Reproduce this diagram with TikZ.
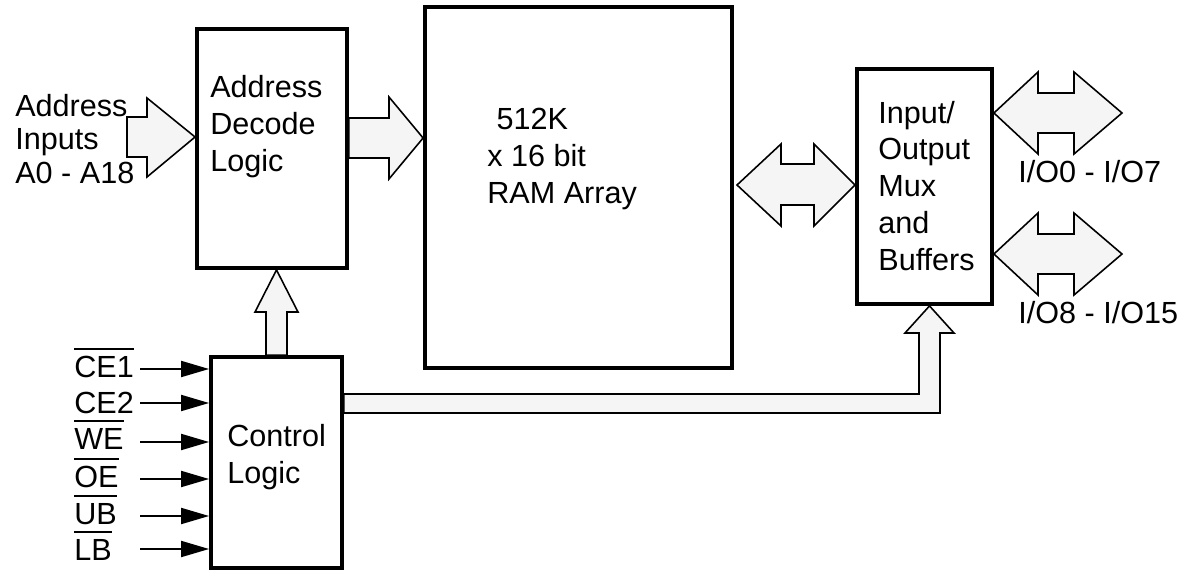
\documentclass[tikz,border=0pt]{standalone}
\usepackage{fontspec}
\setmainfont{Liberation Sans}
\usetikzlibrary{arrows.meta,calc}
\newcommand{\sigbar}[1]{\vbox{\hrule height 1.1pt\kern 3.2pt\hbox{#1}}}

\begin{document}
\begin{tikzpicture}[x=0.02cm,y=-0.02cm,
  box/.style={draw,line width=2.2pt,inner sep=0pt},
  bus/.style={draw,line width=0.9pt,fill=black!4},
  sig/.style={line width=1.1pt,-{Triangle[length=0.56cm,width=0.32cm]}},
  txt/.style={anchor=base west,inner sep=0pt,align=left,font=\fontsize{17.4}{20.9}\selectfont}]
  \useasboundingbox (0,0) rectangle (1189,571);

  \node[box,minimum width=3cm,minimum height=4.78cm]    (Dec) at (272,148.5) {};
  \node[box,minimum width=6.14cm,minimum height=7.22cm] (Ram) at (578.5,187.5) {};
  \node[box,minimum width=2.7cm,minimum height=4.7cm]   (Io)  at (924.5,186.5) {};
  \node[box,minimum width=2.62cm,minimum height=4.22cm] (Ctl) at (276.5,462.5) {};

  \filldraw[bus] (127,117) -- (147,117) -- (147,98) -- (Dec.west |- 0,137)
    -- (147,177) -- (147,157) -- (127,157) -- cycle;
  \filldraw[bus] (Dec.east |- 0,118) -- (389,118) -- (389,97) -- (Ram.west |- 0,138)
    -- (389,179) -- (389,158) -- (Dec.east |- 0,158) -- cycle;
  \filldraw[bus] (737,185) -- (781,144) -- (781,164) -- (814,164) -- (814,144)
    -- (Io.west |- 0,185) -- (814,226) -- (814,205) -- (781,205) -- (781,226) -- cycle;
  \foreach \y in {113,254}
    \filldraw[bus] (Io.east |- 0,\y) -- (1038,\y-41) -- (1038,\y-20) -- (1074,\y-20)
      -- (1074,\y-41) -- (1122,\y) -- (1074,\y+41) -- (1074,\y+20) -- (1038,\y+20)
      -- (1038,\y+41) -- cycle;
  \filldraw[bus] (Ctl.north -| 266,0) -- (266,312) -- (255,312) -- (Dec.south -| Ctl.north)
    -- (298,312) -- (287,312) -- (Ctl.north -| 287,0) -- cycle;
  \filldraw[bus] (Ctl.east |- 0,394) -- (919,394) -- (919,333) -- (905,333)
    -- (Io.south -| 929.5,0) -- (954,333) -- (940,333) -- (940,413)
    -- (Ctl.east |- 0,413) -- cycle;

  \node[txt,font=\fontsize{17.4}{18.8}\selectfont] (AdrIn) at (15,183) {Address\\Inputs\\A0 - A18};
  \node[txt] (DecTxt) at (210,171) {Address\\Decode\\Logic};
  \node[txt] (RamTxt) at (487,203) {\hspace*{0.3em}512K\\x 16 bit\\RAM Array};
  \node[txt] (CtlTxt) at (227,483) {Control\\Logic};
  \node[txt] (IoTxt)  at (878,270) {Input/\\Output\\Mux\\and\\Buffers};
  \node[txt] (IoLo)   at (1018,182) {I/O0 - I/O7};
  \node[txt] (IoHi)   at (1018,323) {I/O8 - I/O15};

  \foreach \n/\y/\t in {1/377/\sigbar{CE1},2/413/CE2,3/449/\sigbar{WE},
                        4/487/\sigbar{OE},5/524/\sigbar{UB},6/560/\sigbar{LB}}
    \node[txt] (S\n) at (74,\y) {\t};
  \foreach \n/\y in {1/369,2/403,3/442,4/479,5/516,6/549} {
    \coordinate (In\n) at (140,\y);
    \draw[sig] (In\n) -- (Ctl.west |- In\n);
  }
\end{tikzpicture}
\end{document}
